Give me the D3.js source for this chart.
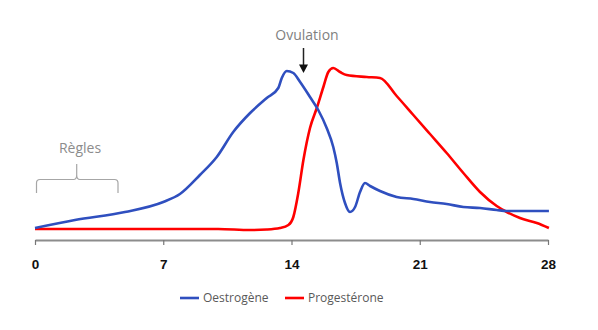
<!DOCTYPE html>
<html><head><meta charset="utf-8">
<script src="https://cdn.jsdelivr.net/npm/d3@7"></script>
<style>body{margin:0;background:#fff}svg{display:block}</style>
</head><body>
<script>
const days = [0, 7, 14, 21, 28];
const tickLabels = ["0", "7", "14", "21", "28"];
const seriesNames = ["Oestrogène", "Progestérone"];
const oestrogeneDay = [0,2.18,4.91,7,7.91,9,9.92,10.82,11.74,12.65,13.28,13.47,13.74,14.1,14.47,15.01,15.46,15.92,16.28,16.47,16.65,16.92,17.19,17.47,17.74,18.01,18.29,18.83,19.74,20.65,21.56,22.47,23.38,24.29,25.2,25.75,28.05];
const oestrogeneVal = [12,20,28,38,46,65,83,108,127,142,152,162,169,167,158,143,130,112,93,77,57,37,28,33,48,57,54,49,43,41,38,36,33,32,30,29,29];
const progesteroneDay = [0,5,10,11.74,12.65,13.37,13.83,14.1,14.37,14.65,15.01,15.38,15.74,16.01,16.28,16.65,17.01,18.11,18.83,19.74,20.65,21.56,22.47,23.38,24.29,25.2,25.75,26.47,27.39,28.05];
const progesteroneVal = [11,11,11,10,10.5,12,15,23,47,80,112,132,153,168,172,168,165,163,162,144,125,106,87,67,48,34,28,22,17,12];

const W = 598, H = 330;
const svg = d3.select("body").append("svg").attr("width", W).attr("height", H);
const x = d3.scaleLinear().domain([0, 28]).range([35, 548]);
const y = d3.scaleLinear().domain([0, 170]).range([240, 70]);

// axis
const ax = svg.append("g").attr("transform", "translate(0,240)")
  .call(d3.axisBottom(x).tickValues(days).tickFormat((d,i)=>tickLabels[i]).tickSize(5).tickSizeOuter(0).tickPadding(14));
ax.select(".domain").attr("stroke", "#8c8c8c").attr("stroke-width", 2);
ax.selectAll(".tick line").attr("stroke", "#777").attr("stroke-width", 1.2);
ax.selectAll("text").attr("font-family", "Liberation Sans, Arial, sans-serif").attr("font-size", 13.5).attr("font-weight", "bold").attr("fill", "#111");

const line = d3.line().x(d=>x(d[0])).y(d=>y(d[1])).curve(d3.curveMonotoneX);
const oes = oestrogeneDay.map((d,i)=>[d, oestrogeneVal[i]]);
const pro = progesteroneDay.map((d,i)=>[d, progesteroneVal[i]]);
svg.append("path").datum(pro).attr("d", line).attr("fill","none").attr("stroke","#ff0000").attr("stroke-width",2.6).attr("stroke-linejoin","round");
svg.append("path").datum(oes).attr("d", line).attr("fill","none").attr("stroke","#2f4fbf").attr("stroke-width",2.6).attr("stroke-linejoin","round");

// Ovulation annotation
const font = "Open Sans, Liberation Sans, sans-serif";
svg.append("text").attr("x", 307).attr("y", 40).attr("text-anchor","middle").attr("font-family", font).attr("font-size", 14).attr("fill","#7f7f7f").text("Ovulation");
svg.append("line").attr("x1", 303.5).attr("x2", 303.5).attr("y1", 48).attr("y2", 66).attr("stroke","#222").attr("stroke-width",1.5);
svg.append("path").attr("d", "M299,64.5 L308,64.5 L303.5,73 Z").attr("fill","#111");

// Règles annotation
svg.append("text").attr("x", 80).attr("y", 153).attr("text-anchor","middle").attr("font-family", font).attr("font-size", 14).attr("fill","#8c8c8c").text("Règles");
svg.append("path").attr("d", "M36.5,193 L36.5,183 Q36.5,179.5 40,179.5 L73.5,179.5 Q76.7,179.5 76.7,175 L76.7,164 M76.7,175 Q76.7,179.5 80,179.5 L114.5,179.5 Q118,179.5 118,183 L118,193")
  .attr("fill","none").attr("stroke","#a6a6a6").attr("stroke-width",1.2);

// legend
const lg = svg.append("g");
const legendColors = ["#2f4fbf", "#ff0000"];
const legendX = [180, 285];
seriesNames.forEach((n,i)=>{
  lg.append("line").attr("x1", legendX[i]).attr("x2", legendX[i]+19).attr("y1", 298).attr("y2", 298).attr("stroke", legendColors[i]).attr("stroke-width", 2.6);
  lg.append("text").attr("x", legendX[i]+23).attr("y", 302).attr("font-family", font).attr("font-size", 12).attr("fill","#595959").text(n);
});
</script>
</body></html>
